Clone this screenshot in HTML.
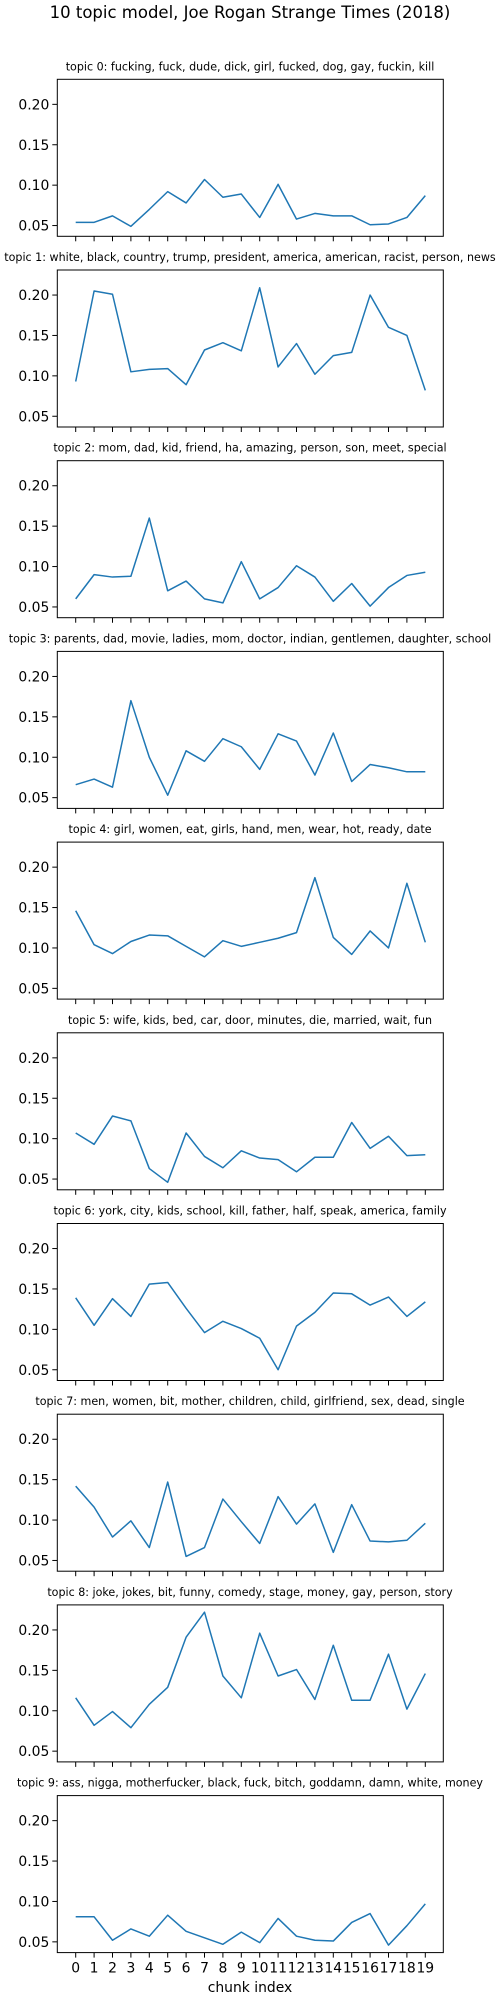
<!DOCTYPE html>
<html><head><meta charset="utf-8"><style>
html,body{margin:0;padding:0;background:#fff;}
svg{display:block;font-family:"DejaVu Sans","Liberation Sans",sans-serif;}
</style></head><body>
<svg id="fig" width="500" height="2000" viewBox="0 0 500 2000">
<rect width="500" height="2000" fill="#fff"/>
<text x="250" y="18" font-size="16.5" text-anchor="middle" fill="#000">10 topic model, Joe Rogan Strange Times (2018)</text>
</svg>
<script>
const titles = [
"topic 0: fucking, fuck, dude, dick, girl, fucked, dog, gay, fuckin, kill",
"topic 1: white, black, country, trump, president, america, american, racist, person, news",
"topic 2: mom, dad, kid, friend, ha, amazing, person, son, meet, special",
"topic 3: parents, dad, movie, ladies, mom, doctor, indian, gentlemen, daughter, school",
"topic 4: girl, women, eat, girls, hand, men, wear, hot, ready, date",
"topic 5: wife, kids, bed, car, door, minutes, die, married, wait, fun",
"topic 6: york, city, kids, school, kill, father, half, speak, america, family",
"topic 7: men, women, bit, mother, children, child, girlfriend, sex, dead, single",
"topic 8: joke, jokes, bit, funny, comedy, stage, money, gay, person, story",
"topic 9: ass, nigga, motherfucker, black, fuck, bitch, goddamn, damn, white, money"
];
const chunks = [0,1,2,3,4,5,6,7,8,9,10,11,12,13,14,15,16,17,18,19];
const yTicks = [0.05,0.10,0.15,0.20];
const yTickLabels = ["0.05","0.10","0.15","0.20"];
const topic0 = [0.054,0.054,0.062,0.049,0.070,0.092,0.078,0.107,0.085,0.089,0.060,0.101,0.058,0.065,0.062,0.062,0.051,0.052,0.060,0.087];
const topic1 = [0.093,0.205,0.201,0.105,0.108,0.109,0.089,0.132,0.141,0.131,0.209,0.111,0.140,0.102,0.125,0.129,0.200,0.160,0.150,0.082];
const topic2 = [0.060,0.090,0.087,0.088,0.160,0.070,0.082,0.060,0.055,0.106,0.060,0.074,0.101,0.087,0.057,0.079,0.051,0.074,0.089,0.093];
const topic3 = [0.066,0.073,0.063,0.170,0.100,0.053,0.108,0.095,0.123,0.113,0.085,0.129,0.120,0.078,0.130,0.070,0.091,0.087,0.082,0.082];
const topic4 = [0.146,0.104,0.093,0.108,0.116,0.115,0.102,0.089,0.109,0.102,0.107,0.112,0.119,0.187,0.113,0.092,0.121,0.100,0.180,0.107];
const topic5 = [0.107,0.093,0.128,0.122,0.063,0.046,0.107,0.078,0.064,0.085,0.076,0.074,0.059,0.077,0.077,0.120,0.088,0.103,0.079,0.080];
const topic6 = [0.139,0.105,0.138,0.116,0.156,0.158,0.126,0.096,0.110,0.101,0.089,0.050,0.104,0.121,0.145,0.144,0.130,0.140,0.116,0.134];
const topic7 = [0.142,0.116,0.079,0.099,0.066,0.147,0.055,0.066,0.126,0.098,0.071,0.129,0.095,0.120,0.060,0.119,0.074,0.073,0.075,0.096];
const topic8 = [0.116,0.082,0.099,0.079,0.108,0.129,0.191,0.222,0.143,0.116,0.196,0.143,0.151,0.114,0.181,0.113,0.113,0.170,0.102,0.146];
const topic9 = [0.081,0.081,0.052,0.066,0.057,0.083,0.063,0.055,0.047,0.062,0.049,0.079,0.057,0.052,0.051,0.074,0.085,0.046,0.070,0.097];
const series = [topic0,topic1,topic2,topic3,topic4,topic5,topic6,topic7,topic8,topic9];

const NS="http://www.w3.org/2000/svg";
const svg=document.getElementById('fig');
const AX_L=57.3, AX_R=443.3, AX_H=157, TOP0=79.3, STEP=190.7;
const YMIN=0.0367, YMAX=0.231;
function xScale(i){return 75.7+(i-chunks[0])*(425.3-75.7)/(chunks.length-1);}
function yScale(v,top){return top+AX_H-(v-YMIN)/(YMAX-YMIN)*AX_H;}
function mk(tag,attrs,parent){const e=document.createElementNS(NS,tag);for(const k in attrs)e.setAttribute(k,attrs[k]);(parent||svg).appendChild(e);return e;}

series.forEach((vals,p)=>{
  const top=TOP0+STEP*p;
  const g=mk('g',{});
  
  
  const t=mk('text',{x:250,y:top-9,'font-size':'11.1','text-anchor':'middle',fill:'#000'},g);
  t.textContent=titles[p];
  
  
  yTicks.forEach((v,k)=>{
    const y=yScale(v,top);
    const tk=mk('line',{x1:AX_L-5,x2:AX_L,y1:y,y2:y,stroke:'#000','stroke-width':1},g);
    
    
    const lb=mk('text',{x:AX_L-8,y:y+5,'font-size':'13.9','text-anchor':'end',fill:'#000'},g);
    lb.textContent=yTickLabels[k];
    
    
  });
  chunks.forEach((c,k)=>{
    const x=xScale(c);
    const tk=mk('line',{x1:x,x2:x,y1:top+AX_H,y2:top+AX_H+5,stroke:'#000','stroke-width':1},g);
    
    
    if(p===series.length-1){
      const lb=mk('text',{x:x,y:top+AX_H+20,'font-size':'13.9','text-anchor':'middle',fill:'#000'},g);
      lb.textContent=String(c);
      
      
    }
  });
  const pts=vals.map((v,i)=>xScale(chunks[i]).toFixed(2)+','+yScale(v,top).toFixed(2)).join(' ');
  const line=mk('polyline',{points:pts,fill:'none',stroke:'#1f77b4','stroke-width':1.5,'stroke-linejoin':'round'},g);
  
  
  const fr=mk('rect',{x:AX_L,y:top,width:AX_R-AX_L,height:AX_H,fill:'none',stroke:'#000','stroke-width':1},g);
  
  
});
const xl=mk('text',{x:250,y:1992,'font-size':'13.9','text-anchor':'middle',fill:'#000'});
xl.textContent='chunk index';


</script>
</body></html>
